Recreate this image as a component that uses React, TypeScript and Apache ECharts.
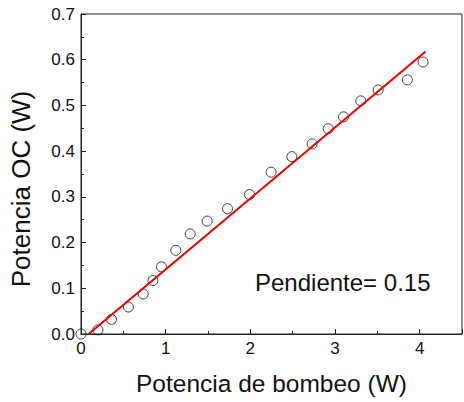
import React, { useEffect, useRef } from "react";
import * as echarts from "echarts";

const pumpPower = [0, 0.2, 0.36, 0.56, 0.735, 0.85, 0.95, 1.12, 1.29, 1.49, 1.73, 1.99, 2.245, 2.49, 2.73, 2.92, 3.1, 3.305, 3.51, 3.855, 4.04];
const outputPower = [0, 0.009, 0.032, 0.059, 0.0875, 0.117, 0.147, 0.183, 0.219, 0.247, 0.274, 0.305, 0.354, 0.388, 0.416, 0.449, 0.475, 0.51, 0.534, 0.556, 0.595];
const fitX = [0.09, 4.07];
const fitY = [0, 0.618];
const slopeLabel = "Pendiente= 0.15";
const xTitle = "Potencia de bombeo (W)";
const yTitle = "Potencia OC (W)";

const FONT = "'Liberation Sans', Arial, sans-serif";

export default function App() {
  const ref = useRef<HTMLDivElement>(null);
  useEffect(() => {
    if (!ref.current) return;
    const chart = echarts.init(ref.current, null, { renderer: "svg" });
    const axisColor = "#222";
    chart.setOption({
      animation: false,
      textStyle: { fontFamily: FONT },
      grid: {
        left: 77,
        top: 14,
        width: 385,
        height: 320,
        show: true,
        borderColor: axisColor,
        borderWidth: 1,
        backgroundColor: "transparent",
      },
      xAxis: {
        type: "value",
        min: 0,
        max: 4.5,
        interval: 1,
        name: xTitle,
        nameLocation: "middle",
        nameGap: 37,
        nameTextStyle: { fontSize: 24.5, color: "#111", fontFamily: FONT },
        axisLine: { show: true, lineStyle: { color: axisColor, width: 1 } },
        axisTick: { show: true, inside: true, length: 5, lineStyle: { color: axisColor } },
        minorTick: { show: true, splitNumber: 2, length: 3, lineStyle: { color: axisColor } },
        axisLabel: { fontSize: 17, color: "#111", margin: 6, showMaxLabel: false, fontFamily: FONT },
        splitLine: { show: false },
      },
      yAxis: {
        type: "value",
        min: 0,
        max: 0.7,
        interval: 0.1,
        name: yTitle,
        nameLocation: "middle",
        nameGap: 47,
        nameTextStyle: { fontSize: 26, color: "#111", fontFamily: FONT, padding: [0, 30, 0, 0] },
        axisLine: { show: true, lineStyle: { color: axisColor, width: 1 } },
        axisTick: { show: true, inside: true, length: 5, lineStyle: { color: axisColor } },
        minorTick: { show: true, splitNumber: 2, length: 3, lineStyle: { color: axisColor } },
        axisLabel: {
          fontSize: 17,
          color: "#111",
          margin: 6,
          fontFamily: FONT,
          formatter: (v: number) => v.toFixed(1),
        },
        splitLine: { show: false },
      },
      graphic: [
        {
          type: "text",
          left: 255,
          top: 270,
          style: { text: slopeLabel, fontSize: 24, fill: "#111", fontFamily: FONT },
        },
      ],
      series: [
        {
          type: "scatter",
          data: pumpPower.map((x, i) => [x, outputPower[i]]),
          symbol: "circle",
          symbolSize: 10,
          itemStyle: { color: "rgba(255,255,255,0)", borderColor: "#111", borderWidth: 1 },
          z: 3,
        },
        {
          type: "line",
          data: fitX.map((x, i) => [x, fitY[i]]),
          symbol: "none",
          lineStyle: { color: "#ee0000", width: 2 },
          z: 4,
        },
      ],
    });
    return () => chart.dispose();
  }, []);
  return <div ref={ref} style={{ width: 464, height: 402, position: "absolute", left: 0, top: 0 }} />;
}
